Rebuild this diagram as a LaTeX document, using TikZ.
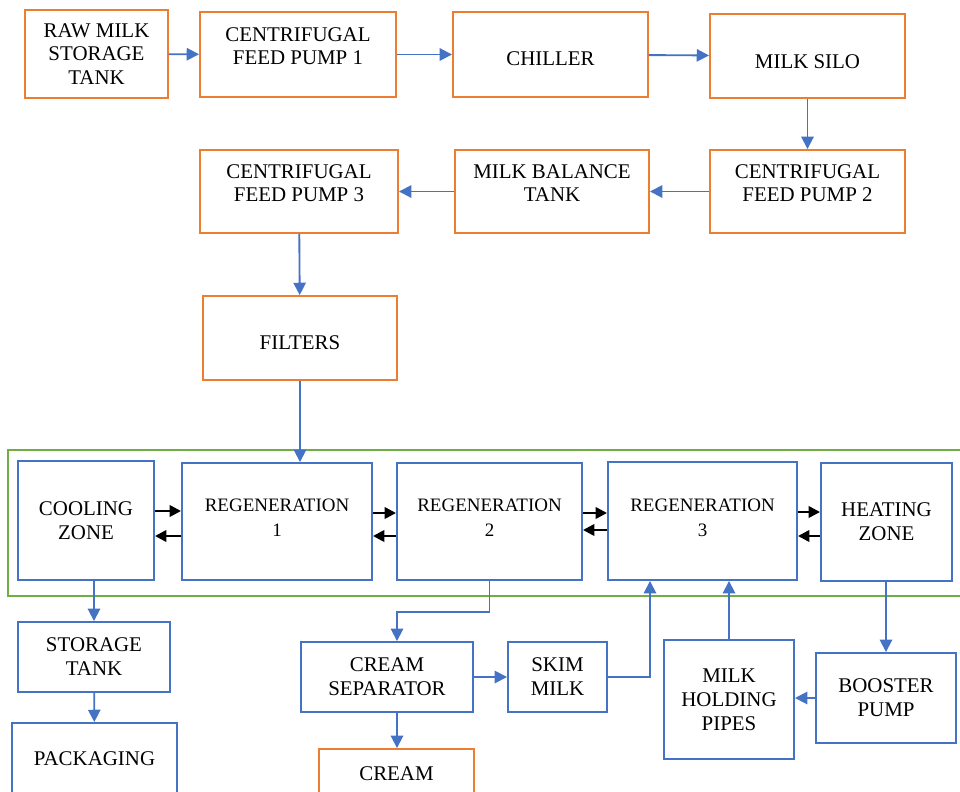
\documentclass[tikz,border=0pt]{standalone}
\usepackage{fontspec}
\setmainfont{Liberation Serif}
\usetikzlibrary{arrows.meta, calc}
\definecolor{pumporange}{HTML}{ED7D31}
\definecolor{pipeblue}{HTML}{4472C4}
\definecolor{zonegreen}{HTML}{70AD47}

\begin{document}
\begin{tikzpicture}[x=0.02cm, y=-0.02cm,
    obox/.style 2 args={draw=pumporange, line width=1.1pt, minimum width=#1*0.02cm,
      minimum height=#2*0.02cm, align=center, inner sep=1pt,
      font=\fontsize{11.9}{13.6}\selectfont},
    bbox/.style 2 args={obox={#1}{#2}, draw=pipeblue},
    regen/.style={font=\fontsize{10.8}{14.2}\selectfont},
    flow/.style={pipeblue, line width=1.05pt, -{Triangle[length=7pt, width=7pt]}},
    swap/.style={black, line width=1.4pt, -{Triangle[length=6.5pt, width=6.5pt]}},
  ]
  \useasboundingbox (0,0) rectangle (960,791);
  \clip (0,0) rectangle (960,791);

  % reception line
  \node [obox={143}{88}] at (96.5,54) (raw) {RAW MILK\\STORAGE\\TANK};
  \node [obox={196}{85}] at (298,54.5) (cfp1) {CENTRIFUGAL\\FEED PUMP 1\\[-4pt]\mbox{}};
  \node [obox={195}{85}] at (550.5,54.5) (chill) {\mbox{}\\[-1.1pt]CHILLER};
  \node [obox={195}{84}] at (807.5,56) (silo) {\mbox{}\\[1.1pt]MILK SILO};
  \node [obox={195}{83}] at (807.5,191.5) (cfp2) {CENTRIFUGAL\\FEED PUMP 2\\[-4pt]\mbox{}};
  \node [obox={194}{83}] at (552,191.5) (bal) {MILK BALANCE\\TANK\\[-4pt]\mbox{}};
  \node [obox={198}{83}] at (299,191.5) (cfp3) {CENTRIFUGAL\\FEED PUMP 3\\[-4pt]\mbox{}};
  \node [obox={194}{84}] at (300,338) (filt) {\mbox{}\\FILTERS};

  % pasteuriser
  \draw [zonegreen, line width=0.9pt] (8,450) rectangle (975,596);
  \node [bbox={136}{119}] at (86,520.5) (cool) {COOLING\\ZONE};
  \node [bbox={190}{117}, regen] at (277,521.5) (reg1) {REGENERATION\\1\\[-10pt]\mbox{}};
  \node [bbox={185}{117}, regen] at (489.5,521.5) (reg2) {REGENERATION\\2\\[-10pt]\mbox{}};
  \node [bbox={189}{118}, regen] at (702.5,521) (reg3) {REGENERATION\\3\\[-10pt]\mbox{}};
  \node [bbox={131}{118}] at (886.5,522) (heat) {HEATING\\ZONE};

  % outlets
  \node [bbox={152}{70}] at (94,657) (store) {STORAGE\\TANK};
  \node [bbox={165}{72}] at (94.5,759) (pack) {PACKAGING};
  \node [bbox={172}{70}] at (387,677) (csep) {CREAM\\SEPARATOR};
  \node [obox={155}{50}] at (396.5,774) (cream) {CREAM};
  \node [bbox={99}{70}] at (557.5,677) (skim) {SKIM\\MILK};
  \node [bbox={130}{119}] at (729,699.5) (hold) {MILK\\HOLDING\\PIPES};
  \node [bbox={140}{90}] at (886,698) (boost) {BOOSTER\\PUMP};

  \coordinate (split) at (397,612);
  \coordinate (r3in) at ($(reg3.south)+(-52.5,0)$);

  \draw [flow] (raw) -- (cfp1);
  \draw [flow] (cfp1) -- (chill);
  \draw [flow] (chill) -- (silo);
  \draw [flow] (silo) -- (cfp2);
  \draw [flow] (cfp2) -- (bal);
  \draw [flow] (bal) -- (cfp3);
  \draw [flow] (cfp3) -- (filt);
  \draw [flow] (filt.south) -- (filt.south |- reg1.north);

  \draw [swap] (cool.east |- 0,511) -- (reg1.west |- 0,511);
  \draw [swap] (reg1.west |- 0,536) -- (cool.east |- 0,536);
  \draw [swap] (reg1.east |- 0,513) -- (reg2.west |- 0,513);
  \draw [swap] (reg2.west |- 0,536) -- (reg1.east |- 0,536);
  \draw [swap] (reg2.east |- 0,513) -- (reg3.west |- 0,513);
  \draw [swap] (reg3.west |- 0,530) -- (reg2.east |- 0,530);
  \draw [swap] (reg3.east |- 0,512) -- (heat.west |- 0,512);
  \draw [swap] (heat.west |- 0,536) -- (reg3.east |- 0,536);

  \draw [flow] (store.north |- cool.south) -- (store.north);
  \draw [flow] (store) -- (pack);
  \draw [flow] (reg2.south) |- (split) -- (split |- csep.north);
  \draw [flow] (split |- csep.south) -- (split |- cream.north);
  \draw [flow] (csep) -- (skim);
  \draw [flow] (skim.east) -| (r3in);
  \draw [flow] (hold.north) -- (hold.north |- reg3.south);
  \draw [flow] (heat.south -| boost.north) -- (boost.north);
  \draw [flow] (boost.west) -- (boost.west -| hold.east);
\end{tikzpicture}
\end{document}
